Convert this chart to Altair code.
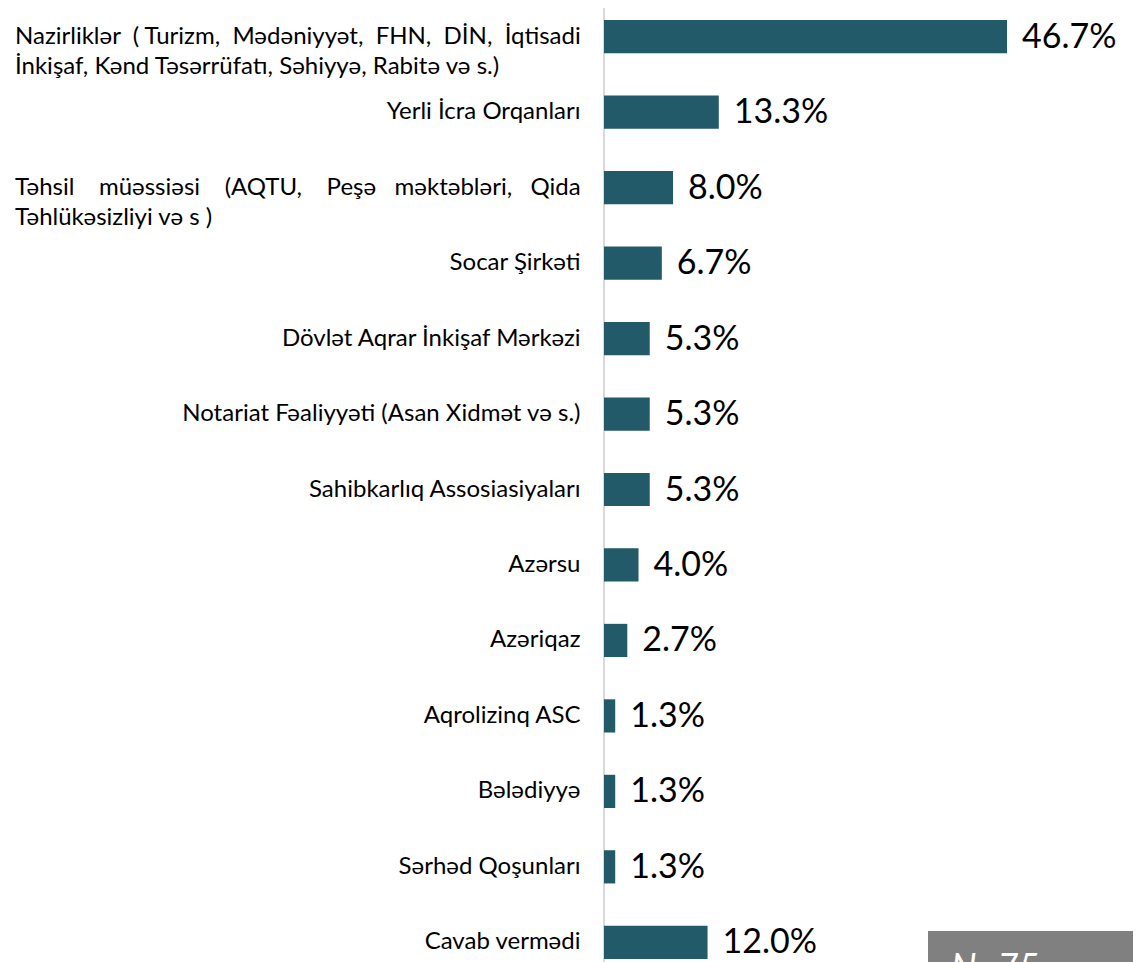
import altair as alt
import pandas as pd

categories = [
    "Nazirliklər ( Turizm, Mədəniyyət, FHN, DİN, İqtisadi İnkişaf, Kənd Təsərrüfatı, Səhiyyə, Rabitə və s.)",
    "Yerli İcra Orqanları",
    "Təhsil müəssiəsi (AQTU, Peşə məktəbləri, Qida Təhlükəsizliyi və s )",
    "Socar Şirkəti",
    "Dövlət Aqrar İnkişaf Mərkəzi",
    "Notariat Fəaliyyəti (Asan Xidmət və s.)",
    "Sahibkarlıq Assosiasiyaları",
    "Azərsu",
    "Azəriqaz",
    "Aqrolizinq ASC",
    "Bələdiyyə",
    "Sərhəd Qoşunları",
    "Cavab vermədi",
]
values = [46.7, 13.3, 8.0, 6.7, 5.3, 5.3, 5.3, 4.0, 2.7, 1.3, 1.3, 1.3, 12.0]

# two-line labels (line 1 justified in the original, line 2 left-aligned)
wrapped_first = ["Nazirliklər ( Turizm, Mədəniyyət, FHN, DİN, İqtisadi",
                 "İnkişaf, Kənd Təsərrüfatı, Səhiyyə, Rabitə və s.)"]
wrapped_third = ["Təhsil müəssiəsi (AQTU, Peşə məktəbləri, Qida",
                 "Təhlükəsizliyi və s )"]
gap_first = [2, 1, 2, 2, 2, 2]
gap_third = [4, 4, 4, 3, 3]
sample_note = "N=75"


def justify(line, gaps):
    # widen word gaps with non-breaking spaces to imitate justified text
    words = line.split(" ")
    out = words[0]
    for w, g in zip(words[1:], gaps):
        out += "\u00a0" * g + w
    return out


df = pd.DataFrame({"cat": categories, "val": values})
df["lbl"] = [f"{v:.1f}%" for v in values]

wrapped = pd.DataFrame({
    "cat": [categories[0], categories[2]],
    "lines": [[justify(wrapped_first[0], gap_first), wrapped_first[1]],
              [justify(wrapped_third[0], gap_third), wrapped_third[1]]],
})

FONT = "Lato"
BAR = "#235a69"
W, H = 529, 963

yenc = alt.Y(
    "cat:N", sort=categories, title=None,
    scale=alt.Scale(paddingInner=0.56, paddingOuter=0.16),
    axis=alt.Axis(
        ticks=False, domain=False, grid=False, labelPadding=24,
        labelFont=FONT, labelFontSize=24, labelColor="#000000", labelLimit=600,
        labelExpr="indexof(datum.label, '(') >= 0 && length(datum.label) > 45 ? '' : datum.label",
    ),
)
xenc = alt.X("val:Q", axis=None, scale=alt.Scale(domain=[0, W / 8.63], nice=False, zero=True))

bars = alt.Chart(df).mark_bar(color=BAR).encode(x=xenc, y=yenc)

vals = alt.Chart(df).mark_text(
    align="left", baseline="middle", dx=15, dy=1, font=FONT, fontSize=34, color="#000000"
).encode(x=xenc, y=yenc, text="lbl:N")

wrap_text = alt.Chart(wrapped).mark_text(
    align="left", baseline="middle", font=FONT, fontSize=24, lineHeight=30, color="#000000"
).encode(x=alt.value(-589), y=alt.Y("cat:N", sort=categories), text="lines")

axis_line = alt.Chart(df).mark_rule(color="#d9d9d9", strokeWidth=2).encode(
    x=alt.value(0), y=alt.value(-10), y2=alt.value(H + 40)
)

note_box = alt.Chart(pd.DataFrame({"t": [sample_note]})).mark_rect(color="#808080").encode(
    x=alt.value(324), x2=alt.value(531), y=alt.value(923), y2=alt.value(H + 40)
)
note_text = alt.Chart(pd.DataFrame({"t": [sample_note]})).mark_text(
    align="left", baseline="alphabetic", font=FONT, fontSize=36, fontStyle="italic", color="#ffffff"
).encode(x=alt.value(347), y=alt.value(972), text="t:N")

chart = alt.layer(axis_line, bars, vals, wrap_text, note_box, note_text).properties(
    width=W, height=H,
    autosize=alt.AutoSizeParams(type="none"),
    padding={"left": 596, "top": 0, "right": 0, "bottom": 40},
).configure_view(stroke=None).resolve_scale(y="shared")

chart.save("out.html", embed_options={"renderer": "svg", "actions": False})
